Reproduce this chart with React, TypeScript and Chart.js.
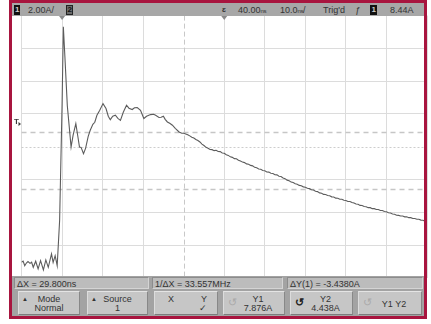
import React, { useEffect, useRef } from "react";
import { Chart, registerables } from "chart.js";

Chart.register(...registerables);

// Channel 1 current trace: time in ns, current in A
const timeNs = [
  -10.0, -9.6, -9.2, -8.8, -8.4, -7.9, -7.5, -7.1, -6.5, -5.9, -5.3, -4.6, -4.0, -3.4, -2.6, -2.2, -1.7, -1.2,
  -0.6, 0.0, 0.32, 0.7, 1.3, 2.23, 2.73, 3.4, 3.85, 4.3, 4.7, 5.29, 5.8, 6.45, 6.95, 7.6, 8.07, 8.6, 9.3,
  10.1, 10.84, 11.4, 11.9, 12.5, 13.15, 13.77, 14.4, 15.1, 15.9, 16.5, 17.3, 17.87, 18.54, 19.35, 20.17,
  20.84, 21.4, 21.84, 22.58, 23.08, 23.9, 24.44, 24.99, 25.43, 25.98, 26.55, 27.22, 27.92, 28.86, 29.53,
  30.0, 30.5, 31.0, 31.5, 32.0, 32.5, 33.0, 33.5, 34.0, 34.5, 35.0, 35.5, 36.0, 36.5, 37.0, 37.5, 38.0,
  38.5, 39.0, 39.5, 40.0, 40.5, 41.0, 41.5, 42.0, 42.5, 43.0, 43.5, 44.0, 44.5, 45.0, 45.5, 46.0, 46.5,
  47.0, 47.5, 48.0, 48.5, 49.0, 49.5, 50.0, 50.5, 51.0, 51.5, 52.0, 52.5, 53.0, 53.5, 54.0, 54.5, 55.0,
  55.5, 56.0, 56.5, 57.0, 57.5, 58.0, 58.5, 59.0, 59.5, 60.0, 60.5, 61.0, 61.5, 62.0, 62.5, 63.0, 63.5,
  64.0, 64.5, 65.0, 65.5, 66.0, 66.5, 67.0, 67.5, 68.0, 68.5, 69.0, 69.5, 70.0, 70.5, 71.0, 71.5, 72.0,
  72.5, 73.0, 73.5, 74.0, 74.5, 75.0, 75.5, 76.0, 76.5, 77.0, 77.5, 78.0, 78.5, 79.0, 79.5, 80.0, 80.5,
  81.0, 81.5, 82.0, 82.5, 83.0, 83.5, 84.0, 84.5, 85.0, 85.5, 86.0, 86.5, 87.0, 87.5, 88.0, 88.5, 89.0,
  89.5, 90.0,
];
const currentA = [
  -0.05, 0.02, -0.26, -0.1, -0.01, -0.12, -0.05, -0.36, 0.01, -0.46, 0.05, -0.52, 0.09, -0.36, 0.46, -0.06, 0.35, -0.26,
  2.5, 9.5, 14.32, 12.5, 9.5, 6.98, 7.7, 8.41, 7.7, 6.98, 6.96, 6.57, 6.9, 7.63, 8.0, 8.37, 8.49, 8.92, 9.22,
  9.63, 9.33, 8.86, 8.65, 8.86, 8.92, 8.73, 8.61, 9.1, 9.53, 9.35, 9.27, 9.38, 9.39, 9.22, 8.72,
  8.86, 8.92, 8.96, 8.98, 8.92, 8.78, 8.8, 8.86, 8.67, 8.51, 8.43, 8.31, 8.12, 7.9, 7.82,
  7.82, 7.78, 7.73, 7.66, 7.58, 7.53, 7.44, 7.38, 7.29, 7.16, 7.07, 6.96, 6.91, 6.83, 6.82, 6.76, 6.78,
  6.71, 6.7, 6.62, 6.6, 6.51, 6.47, 6.38, 6.35, 6.27, 6.26, 6.17, 6.13, 6.06, 6.03, 5.95, 5.93, 5.86,
  5.83, 5.74, 5.71, 5.64, 5.62, 5.55, 5.53, 5.46, 5.45, 5.38, 5.36, 5.29, 5.28, 5.2, 5.18, 5.09, 5.05,
  4.96, 4.92, 4.84, 4.81, 4.74, 4.71, 4.64, 4.62, 4.55, 4.53, 4.46, 4.44, 4.37, 4.36, 4.28, 4.26, 4.18,
  4.16, 4.09, 4.08, 4.02, 4.01, 3.94, 3.93, 3.86, 3.85, 3.79, 3.79, 3.73, 3.72, 3.66, 3.66, 3.59, 3.57,
  3.5, 3.49, 3.42, 3.41, 3.35, 3.34, 3.28, 3.28, 3.22, 3.22, 3.17, 3.17, 3.11, 3.11, 3.05, 3.03, 2.97,
  2.95, 2.89, 2.88, 2.82, 2.81, 2.77, 2.77, 2.72, 2.72, 2.67, 2.67, 2.62, 2.62, 2.57, 2.57, 2.52, 2.51,
  2.45, 2.44,
];

// Graticule: 10 ns/div horizontally, 2.00 A/div vertically
const timeTicks = [-10, 0, 10, 20, 30, 40, 50, 60, 70, 80, 90];
const ampTicks = [-1, 1, 3, 5, 7, 9, 11, 13, 15];

const centerAmp = 7;
const triggerNs = 0;
const delayNs = 40;
const dashedNs = 30;
const y1Amp = 7.876;
const y2Amp = 4.438;
const triggerAmp = 8.44;

const readouts = ["ΔX = 29.800ns", "1/ΔX = 33.557MHz", "ΔY(1) = -3.4380A"];

const FONT = '"Liberation Sans", Arial, sans-serif';
const TEXT = "#333333";

const scopePlugin = {
  id: "scopeMarks",
  beforeDatasetsDraw(chart: any) {
    const { ctx, chartArea: a, scales } = chart;
    const x = scales.x;
    const y = scales.y;
    const hLine = (v: number) => {
      const p = Math.round(y.getPixelForValue(v)) + 0.5;
      ctx.beginPath();
      ctx.moveTo(a.left, p);
      ctx.lineTo(a.right, p);
      ctx.stroke();
    };
    ctx.save();
    ctx.lineWidth = 1;
    // centre axis, finely dotted
    ctx.strokeStyle = "#cdcdcd";
    ctx.setLineDash([2, 2]);
    hLine(centerAmp);
    // dashed vertical time marker
    ctx.strokeStyle = "#c8c8c8";
    ctx.setLineDash([5, 3]);
    const xv = Math.round(x.getPixelForValue(dashedNs)) + 0.5;
    ctx.beginPath();
    ctx.moveTo(xv, a.top);
    ctx.lineTo(xv, a.bottom);
    ctx.stroke();
    // Y1 / Y2 cursors
    ctx.strokeStyle = "#c6c6c6";
    ctx.lineWidth = 1.3;
    ctx.setLineDash([5, 4]);
    hLine(y1Amp);
    hLine(y2Amp);
    ctx.restore();
  },
  afterDraw(chart: any) {
    const { ctx, chartArea: a, scales } = chart;
    const x = scales.x;
    const y = scales.y;
    ctx.save();
    // trigger point and delay reference markers under the status line
    ctx.fillStyle = "#8a8a8a";
    [triggerNs, delayNs].forEach((t) => {
      const px = x.getPixelForValue(t);
      ctx.beginPath();
      ctx.moveTo(px - 3, a.top + 0.5);
      ctx.lineTo(px + 3, a.top + 0.5);
      ctx.lineTo(px, a.top + 4.5);
      ctx.closePath();
      ctx.fill();
    });
    // trigger level marker on the left edge
    const ty = y.getPixelForValue(triggerAmp);
    ctx.fillStyle = "#3a3a3a";
    ctx.font = `bold 8px ${FONT}`;
    ctx.textBaseline = "middle";
    ctx.fillText("T", 14, ty - 1);
    ctx.beginPath();
    ctx.moveTo(18.5, ty - 1);
    ctx.lineTo(21, ty + 1);
    ctx.lineTo(18.5, ty + 3);
    ctx.closePath();
    ctx.fill();
    ctx.restore();
  },
};

function Abs(props: { l: number; t: number; w?: number; h?: number; style?: any; children?: any }) {
  const { l, t, w, h, style, children } = props;
  return (
    <div style={{ position: "absolute", left: l, top: t, width: w, height: h, boxSizing: "border-box", ...style }}>
      {children}
    </div>
  );
}

function Txt(props: { l: number; t: number; children?: any; style?: any }) {
  return (
    <span
      style={{
        position: "absolute",
        left: props.l,
        top: props.t,
        fontSize: 9,
        lineHeight: "10px",
        color: TEXT,
        whiteSpace: "nowrap",
        ...props.style,
      }}
    >
      {props.children}
    </span>
  );
}

const NS = () => <span style={{ fontSize: 6, letterSpacing: -0.4 }}>ns</span>;

const buttonStyle = {
  background: "#c6c6c6",
  borderTop: "1px solid #e4e4e4",
  borderLeft: "1px solid #dcdcdc",
  borderBottom: "1px solid #7c7c7c",
  borderRight: "1px solid #888",
};

function SoftKey(props: { l: number; w: number; children?: any }) {
  return (
    <Abs l={props.l} t={1.5} w={props.w} h={24} style={buttonStyle}>
      {props.children}
    </Abs>
  );
}

function Center(props: { t: number; children?: any; style?: any }) {
  return (
    <div
      style={{
        position: "absolute",
        left: 0,
        right: 0,
        top: props.t,
        textAlign: "center",
        fontSize: 9,
        lineHeight: "10px",
        color: TEXT,
        whiteSpace: "nowrap",
        ...props.style,
      }}
    >
      {props.children}
    </div>
  );
}

export default function App() {
  const canvasRef = useRef<HTMLCanvasElement | null>(null);

  useEffect(() => {
    const canvas = canvasRef.current;
    if (!canvas) return;
    const points = timeNs.map((t, i) => ({ x: t, y: currentA[i] }));
    const chart = new Chart(canvas, {
      type: "line",
      data: {
        datasets: [
          {
            data: points,
            borderColor: "#5c5c5c",
            borderWidth: 1.1,
            pointRadius: 0,
            tension: 0,
            fill: false,
          },
        ],
      },
      options: {
        responsive: false,
        maintainAspectRatio: false,
        animation: false,
        events: [],
        layout: { padding: { left: 21.5, top: 15.6, right: 4, bottom: 46.2 } },
        plugins: { legend: { display: false }, tooltip: { enabled: false } },
        scales: {
          x: {
            type: "linear",
            min: timeTicks[0],
            max: timeTicks[timeTicks.length - 1],
            ticks: { display: false, stepSize: timeTicks[1] - timeTicks[0] },
            grid: {
              drawTicks: false,
              lineWidth: 1,
              color: (c: any) => (c.tick && c.tick.value === dashedNs ? "rgba(0,0,0,0)" : "#dcdcdc"),
            },
            border: { display: false },
          },
          y: {
            type: "linear",
            min: ampTicks[0],
            max: ampTicks[ampTicks.length - 1],
            ticks: { display: false, stepSize: ampTicks[1] - ampTicks[0] },
            grid: {
              drawTicks: false,
              lineWidth: 1,
              color: (c: any) => (c.tick && c.tick.value === centerAmp ? "rgba(0,0,0,0)" : "#dcdcdc"),
            },
            border: { display: false },
          },
        },
      },
      plugins: [scopePlugin],
    });
    return () => chart.destroy();
  }, []);

  return (
    <div
      style={{
        position: "fixed",
        left: 0,
        top: 0,
        width: 431,
        height: 324,
        background: "#ffffff",
        overflow: "hidden",
        fontFamily: FONT,
      }}
    >
      <canvas
        ref={canvasRef}
        width={431}
        height={324}
        style={{ position: "absolute", left: 0, top: 0, width: 431, height: 324 }}
      />

      {/* status line */}
      <Abs l={12} t={3} w={412} h={13} style={{ background: "#a7a7a7" }}>
        <Abs l={2} t={1.5} w={6} h={10} style={{ background: "#111" }}>
          <span style={{ position: "absolute", left: 1, top: 0, fontSize: 8, lineHeight: "10px", color: "#cfcfcf", fontWeight: "bold" }}>1</span>
        </Abs>
        <Txt l={16} t={1.5}>2.00A/</Txt>
        <Abs l={54} t={1.5} w={7} h={10} style={{ background: "#6a6a6a", border: "1px solid #222" }}>
          <span style={{ position: "absolute", left: 0.5, top: -1, fontSize: 8, lineHeight: "10px", color: "#111", fontWeight: "bold" }}>2</span>
        </Abs>
        <Txt l={210} t={2} style={{ fontSize: 8, fontWeight: "bold", color: "#333" }}>ɛ</Txt>
        <Txt l={226} t={1.5}>40.00<NS /></Txt>
        <Txt l={268} t={1.5}>10.0<NS />/</Txt>
        <Txt l={311} t={1.5}>Trig'd</Txt>
        <Txt l={343} t={1.5} style={{ fontStyle: "italic" }}>ƒ</Txt>
        <Abs l={358} t={1.5} w={7} h={10} style={{ background: "#111" }}>
          <span style={{ position: "absolute", left: 1.5, top: 0, fontSize: 8, lineHeight: "10px", color: "#cfcfcf", fontWeight: "bold" }}>1</span>
        </Abs>
        <Txt l={378} t={1.5}>8.44A</Txt>
      </Abs>

      {/* cursor readouts */}
      <Abs l={12} t={276} w={412} h={13} style={{ background: "#a3a3a3" }}>
        {[
          [2, 135],
          [140, 131],
          [275, 136],
        ].map(([l, w], i) => (
          <Abs
            key={i}
            l={l}
            t={1}
            w={w}
            h={11.5}
            style={{
              background: "#bcbcbc",
              borderTop: "1px solid #8c8c8c",
              borderLeft: "1px solid #8c8c8c",
              borderBottom: "1px solid #d4d4d4",
              borderRight: "1px solid #d4d4d4",
            }}
          >
            <Txt l={2} t={0.5}>{readouts[i]}</Txt>
          </Abs>
        ))}
      </Abs>

      {/* softkeys */}
      <Abs l={12} t={289} w={412} h={27} style={{ background: "#a3a3a3" }}>
        <SoftKey l={6} w={62}>
          <Txt l={3} t={2} style={{ fontSize: 6 }}>▲</Txt>
          <Center t={2.5}>Mode</Center>
          <Center t={11.5}>Normal</Center>
        </SoftKey>
        <SoftKey l={75} w={61}>
          <Txt l={3} t={2} style={{ fontSize: 6 }}>▲</Txt>
          <Center t={2.5}>Source</Center>
          <Center t={11.5}>1</Center>
        </SoftKey>
        <SoftKey l={142} w={64}>
          <Txt l={13} t={2.5}>X</Txt>
          <Txt l={46} t={2.5}>Y</Txt>
          <Txt l={44} t={11.5}>✓</Txt>
        </SoftKey>
        <SoftKey l={211} w={62}>
          <Txt l={4} t={5} style={{ fontSize: 11, color: "#a9a9a9" }}>↺</Txt>
          <Center t={2.5} style={{ paddingLeft: 8 }}>Y1</Center>
          <Center t={11.5} style={{ paddingLeft: 8 }}>7.876A</Center>
        </SoftKey>
        <SoftKey l={278} w={63}>
          <Txt l={4} t={5} style={{ fontSize: 11, color: "#222", fontWeight: "bold" }}>↺</Txt>
          <Center t={2.5} style={{ paddingLeft: 8 }}>Y2</Center>
          <Center t={11.5} style={{ paddingLeft: 8 }}>4.438A</Center>
        </SoftKey>
        <SoftKey l={346} w={64}>
          <Txt l={4} t={5} style={{ fontSize: 11, color: "#a9a9a9" }}>↺</Txt>
          <Center t={7} style={{ paddingLeft: 8 }}>Y1 Y2</Center>
        </SoftKey>
      </Abs>

      {/* bezel frame */}
      <Abs l={9} t={0} w={418} h={319} style={{ border: "3px solid #a8153f", pointerEvents: "none" }} />
    </div>
  );
}
